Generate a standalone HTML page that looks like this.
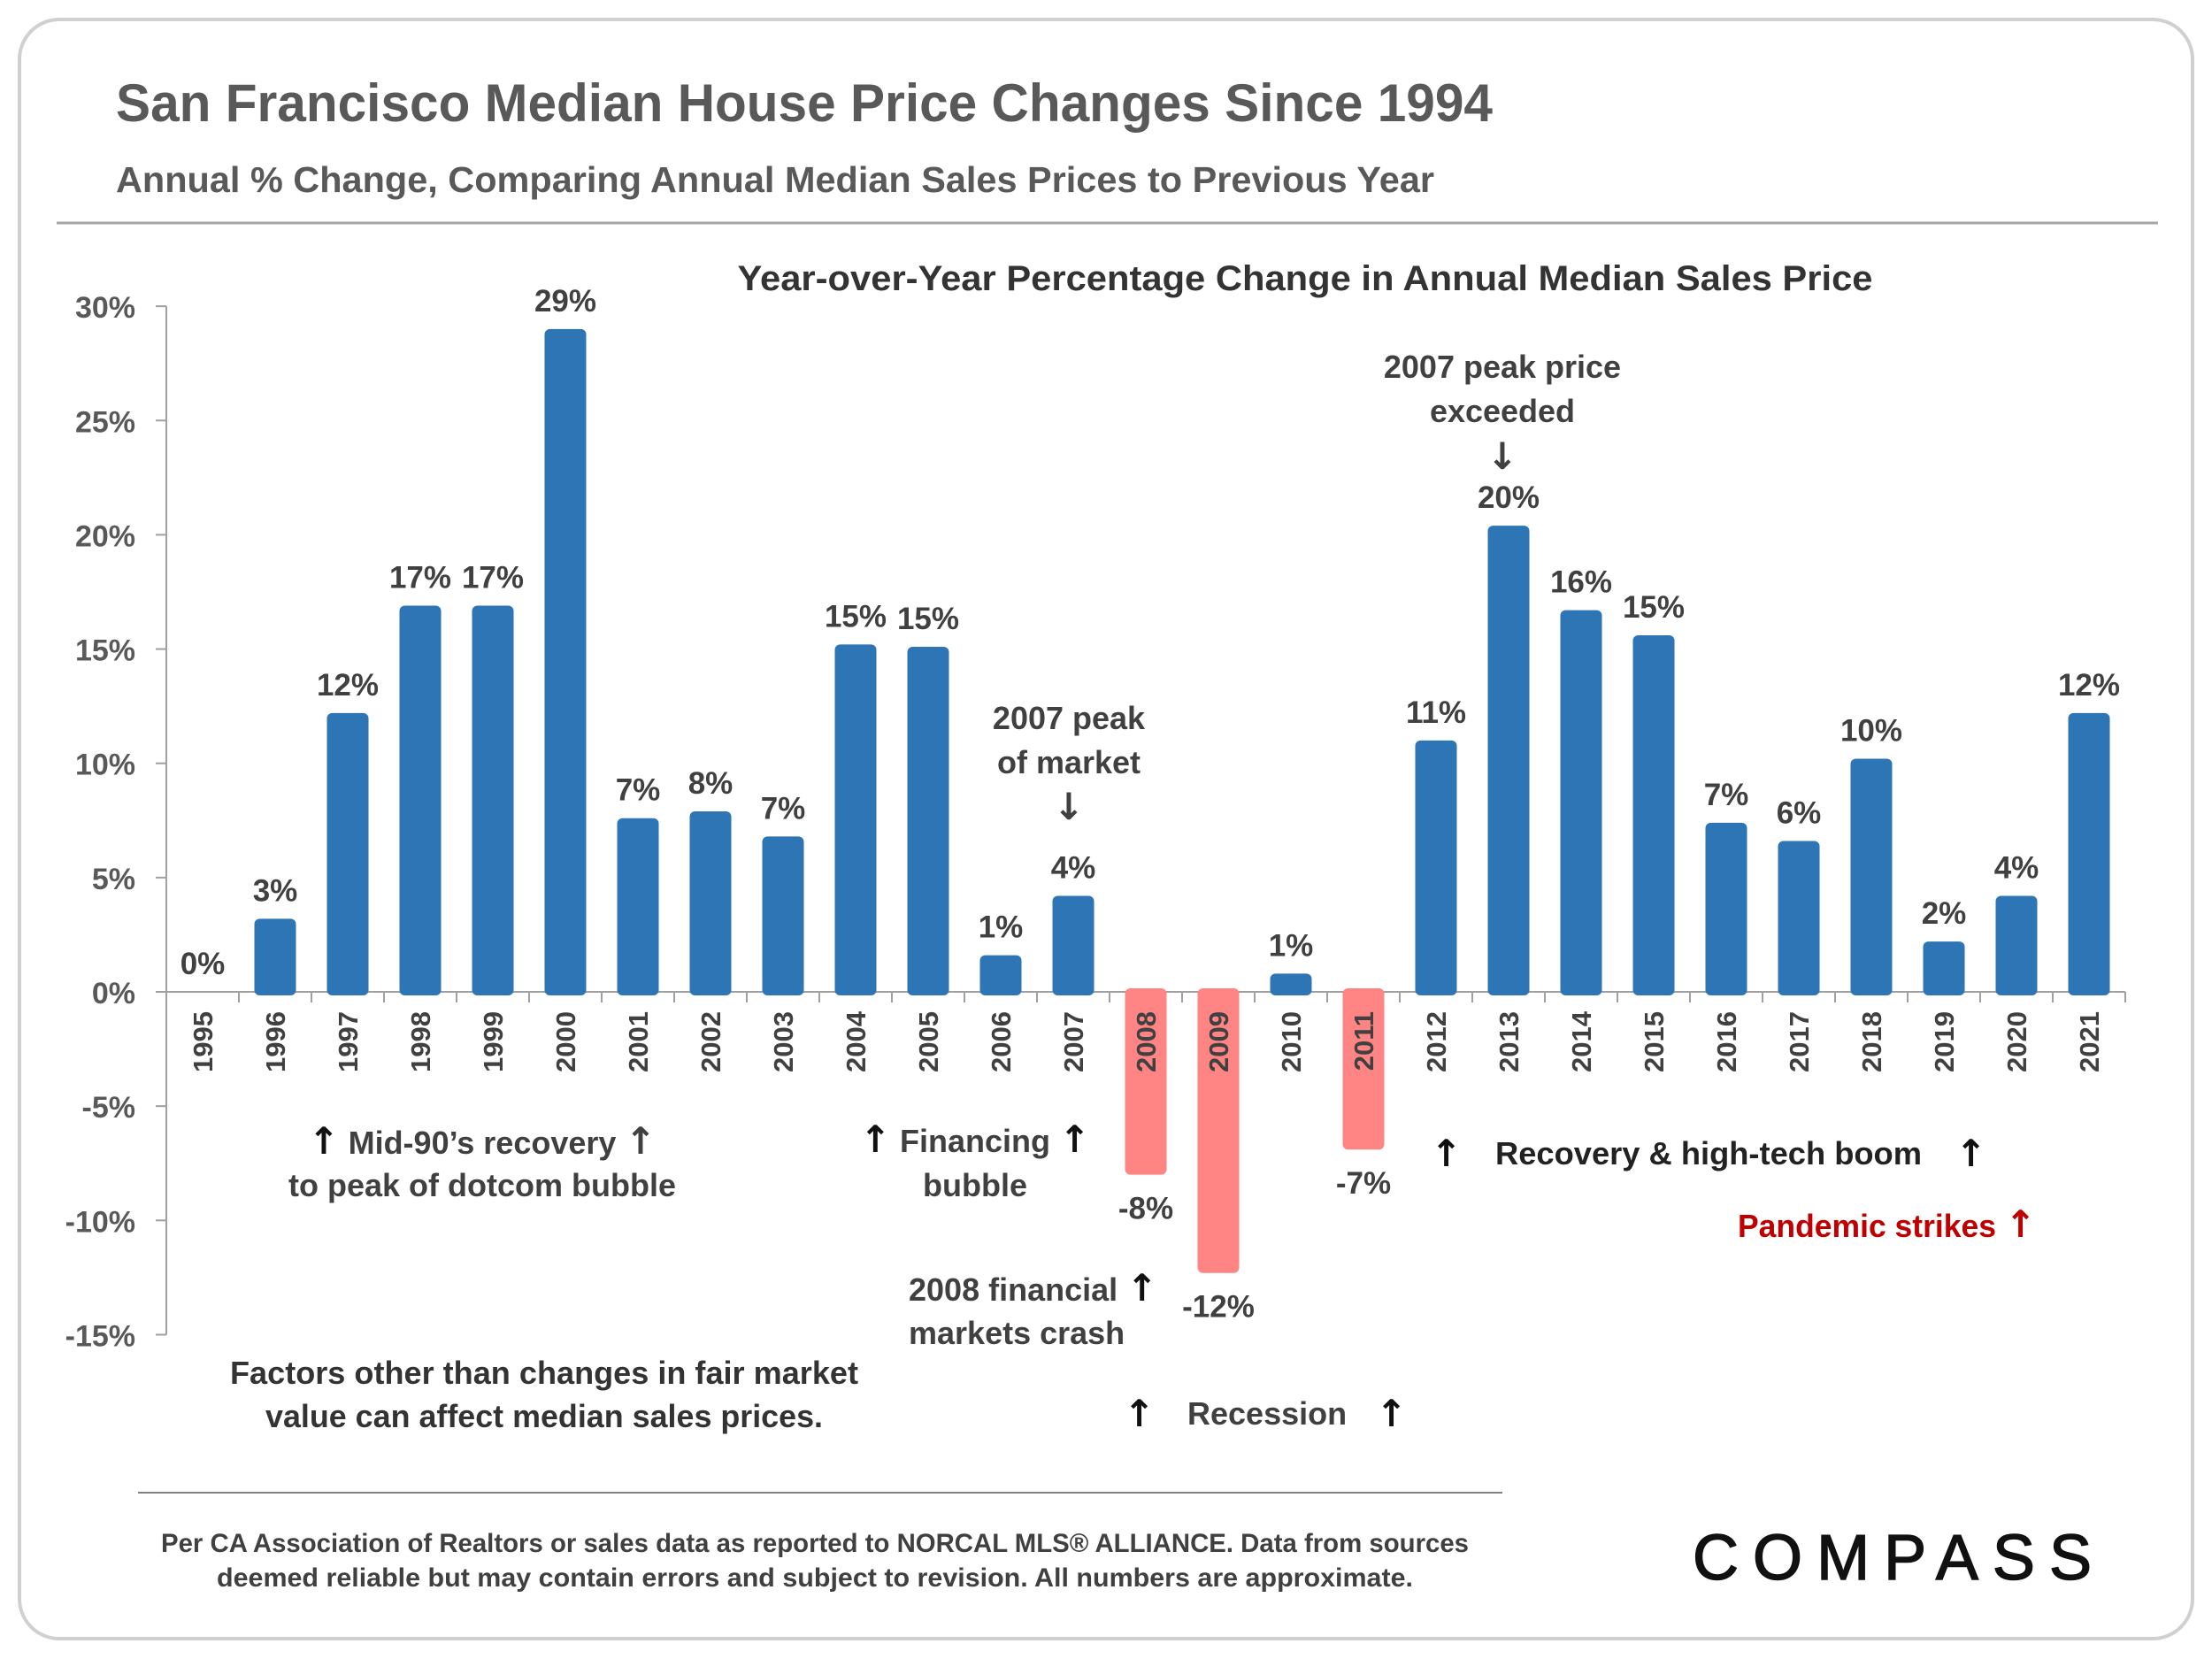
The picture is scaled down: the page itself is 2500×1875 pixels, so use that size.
<!DOCTYPE html>
<html><head><meta charset="utf-8"><style>
html,body{margin:0;padding:0;background:#fff}
svg{display:block}
text{font-family:"Liberation Sans",sans-serif;font-weight:bold}
.ar{font-family:"DejaVu Sans",sans-serif;font-size:42px;font-weight:bold}
</style></head><body>
<svg id="chart" width="2500" height="1875" viewBox="0 0 2500 1875" xmlns="http://www.w3.org/2000/svg">
<rect x="22" y="22" width="2456" height="1830" rx="45" fill="#fff" stroke="#d0d0d0" stroke-width="4"/>
<text x="131" y="137" font-size="60" fill="#595959" textLength="1556" lengthAdjust="spacingAndGlyphs">San Francisco Median House Price Changes Since 1994</text>
<text x="131" y="217" font-size="41" fill="#595959" textLength="1490" lengthAdjust="spacingAndGlyphs">Annual % Change, Comparing Annual Median Sales Prices to Previous Year</text>
<line x1="64" y1="252" x2="2439" y2="252" stroke="#a6a6a6" stroke-width="3"/>
<text x="1475" y="328" font-size="40" fill="#333" text-anchor="middle" textLength="1283" lengthAdjust="spacingAndGlyphs">Year-over-Year Percentage Change in Annual Median Sales Price</text>
<g id="axes"></g>
<g id="bars"></g>
<g id="annotations" font-size="36" fill="#404040">
<text x="545" y="1304" text-anchor="middle"><tspan class="ar" fill="#111">↑</tspan>  Mid-90’s recovery <tspan class="ar">↑</tspan></text>
<text x="545" y="1352" text-anchor="middle">to peak of dotcom bubble</text>
<text x="1102" y="1302" text-anchor="middle"><tspan class="ar" fill="#111">↑</tspan> Financing <tspan class="ar" fill="#111">↑</tspan></text>
<text x="1102" y="1352" text-anchor="middle">bubble</text>
<text x="1208" y="824" text-anchor="middle">2007 peak</text>
<text x="1208" y="874" text-anchor="middle">of market</text>
<text x="1208" y="926" text-anchor="middle" class="ar">↓</text>
<text x="1027" y="1470">2008 financial <tspan class="ar" fill="#111">↑</tspan></text>
<text x="1027" y="1519">markets crash</text>
<text x="1270" y="1612" class="ar" fill="#111">↑</text>
<text x="1342" y="1610">Recession</text>
<text x="1555" y="1612" class="ar" fill="#111">↑</text>
<text x="1698" y="427" text-anchor="middle">2007 peak price</text>
<text x="1698" y="477" text-anchor="middle">exceeded</text>
<text x="1698" y="530" text-anchor="middle" class="ar">↓</text>
<text x="1617" y="1318" class="ar" fill="#111">↑</text>
<text x="1690" y="1316" fill="#222" textLength="482" lengthAdjust="spacingAndGlyphs">Recovery &amp; high-tech boom</text>
<text x="2210" y="1318" class="ar" fill="#111">↑</text>
<text x="1964" y="1398" fill="#c00000"><tspan textLength="292" lengthAdjust="spacingAndGlyphs">Pandemic strikes</tspan> <tspan class="ar">↑</tspan></text>
<text x="615" y="1564" text-anchor="middle" fill="#333" textLength="710" lengthAdjust="spacingAndGlyphs">Factors other than changes in fair market</text>
<text x="615" y="1613" text-anchor="middle" fill="#333" textLength="630" lengthAdjust="spacingAndGlyphs">value can affect median sales prices.</text>
</g>
<line x1="156" y1="1687" x2="1698" y2="1687" stroke="#808080" stroke-width="2"/>
<text x="921" y="1754" font-size="30" fill="#404040" text-anchor="middle" textLength="1478" lengthAdjust="spacingAndGlyphs">Per CA Association of Realtors or sales data as reported to NORCAL MLS® ALLIANCE. Data from sources</text>
<text x="921" y="1793" font-size="30" fill="#404040" text-anchor="middle" textLength="1352" lengthAdjust="spacingAndGlyphs">deemed reliable but may contain errors and subject to revision. All numbers are approximate.</text>
<text x="1913" y="1785" font-size="72" fill="#111" textLength="451" lengthAdjust="spacing" stroke="#111" stroke-width="1.5" style="font-weight:normal">COMPASS</text>
</svg>
<script>
const years = ["1995","1996","1997","1998","1999","2000","2001","2002","2003","2004","2005","2006","2007","2008","2009","2010","2011","2012","2013","2014","2015","2016","2017","2018","2019","2020","2021"];
const values = [0,3.2,12.2,16.9,16.9,29,7.6,7.9,6.8,15.2,15.1,1.6,4.2,-8,-12.3,0.8,-6.9,11,20.4,16.7,15.6,7.4,6.6,10.2,2.2,4.2,12.2];
const valueLabels = ["0%","3%","12%","17%","17%","29%","7%","8%","7%","15%","15%","1%","4%","-8%","-12%","1%","-7%","11%","20%","16%","15%","7%","6%","10%","2%","4%","12%"];
const yTicks = [30,25,20,15,10,5,0,-5,-10,-15];
const yTickLabels = ["30%","25%","20%","15%","10%","5%","0%","-5%","-10%","-15%"];

const NS="http://www.w3.org/2000/svg";
const plotLeft=188, catW=82, y0=1121, pxPer=25.83, barW=47;
const xC=i=>plotLeft+catW*(i+0.5);
const yS=v=>y0-v*pxPer;
function mk(tag,attrs,parent){const e=document.createElementNS(NS,tag);for(const k in attrs)e.setAttribute(k,attrs[k]);parent.appendChild(e);return e;}
const axes=document.getElementById('axes'), bars=document.getElementById('bars');

const yAxis=mk('line',{x1:plotLeft,y1:yS(30),x2:plotLeft,y2:yS(-15),stroke:'#a0a0a0','stroke-width':2},axes);


yTicks.forEach((t,i)=>{
  const tk=mk('line',{x1:plotLeft-12,y1:yS(t),x2:plotLeft,y2:yS(t),stroke:'#a0a0a0','stroke-width':2},axes);
  
  
  const tl=mk('text',{x:153,y:yS(t)+13,'font-size':34,fill:'#595959','text-anchor':'end'},axes);
  tl.textContent=yTickLabels[i];
  
  
});
const xAxis=mk('line',{x1:plotLeft,y1:y0,x2:plotLeft+catW*years.length,y2:y0,stroke:'#a0a0a0','stroke-width':2},axes);


for(let i=0;i<=years.length;i++){
  const tk=mk('line',{x1:plotLeft+catW*i,y1:y0,x2:plotLeft+catW*i,y2:y0+12,stroke:'#a0a0a0','stroke-width':2},axes);
  
  
}
years.forEach((yr,i)=>{
  const v=values[i], neg=v<0;
  const top=Math.min(yS(v),y0), h=Math.abs(yS(v)-y0);
  if(h>0){
    const b=mk('rect',{x:xC(i)-barW/2,y:neg?y0-4:top,width:barW,height:h+4,rx:6,fill:neg?'#ff8585':'#2e75b6'},bars);
    
    
  }
  const lbl=mk('text',{x:xC(i),y:neg?yS(v)+50:yS(v)-20,'font-size':35,fill:'#404040','text-anchor':'middle'},bars);
  lbl.textContent=valueLabels[i];
  
  
  const yl=mk('text',{x:0,y:0,'font-size':31,fill:'#404040','text-anchor':'end',transform:`translate(${xC(i)+11},${y0+22}) rotate(-90)`},bars);
  yl.textContent=yr;
  
  
});
</script>
</body></html>
